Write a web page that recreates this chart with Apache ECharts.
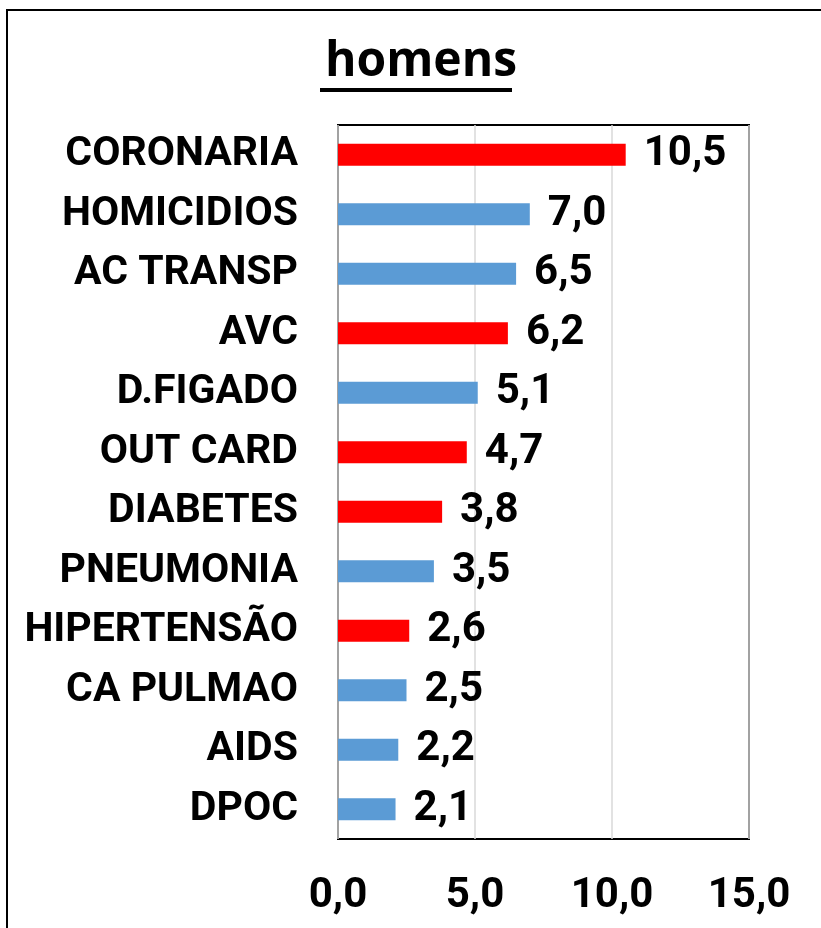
<!DOCTYPE html>
<html><head><meta charset="utf-8">
<script src="https://cdn.jsdelivr.net/npm/echarts@6/dist/echarts.min.js"></script>
<style>html,body{margin:0;padding:0;background:#fff}#c{width:821px;height:928px}</style>
</head><body><div id="c"></div>
<script>
const categories = ["CORONARIA","HOMICIDIOS","AC TRANSP","AVC","D.FIGADO","OUT CARD","DIABETES","PNEUMONIA","HIPERTENSÃO","CA PULMAO","AIDS","DPOC"];
const values = [10.5,7.0,6.5,6.2,5.1,4.7,3.8,3.5,2.6,2.5,2.2,2.1];
const barColors = ["#FF0000","#5B9BD5","#5B9BD5","#FF0000","#5B9BD5","#FF0000","#FF0000","#5B9BD5","#FF0000","#5B9BD5","#5B9BD5","#5B9BD5"];
const tickValues = [0,5,10,15];
const titleText = "homens";

const fmt = v => v.toFixed(1).replace('.', ',');
const chart = echarts.init(document.getElementById('c'), null, {renderer:'canvas'});
const font = 'Roboto, "Noto Sans", sans-serif';
chart.setOption({
  animation:false,
  backgroundColor:'#fff',
  title:{text:titleText,left:416,textAlign:'center',top:33,
    textStyle:{fontFamily:'"Open Sans", sans-serif',fontSize:48,fontWeight:'bold',color:'#000'}},
  graphic:[
    {type:'rect',shape:{x:7,y:10,width:900,height:1000},style:{fill:'none',stroke:'#000',lineWidth:2},silent:true},
    {type:'line',shape:{x1:320,y1:90,x2:512,y2:90},style:{stroke:'#000',lineWidth:4},silent:true}
  ],
  grid:{left:338,right:72,top:125,bottom:89,show:true,borderColor:'#000',borderWidth:2,backgroundColor:'transparent'},
  xAxis:{type:'value',min:0,max:15,interval:5,
    axisLine:{show:false},axisTick:{show:false},
    splitLine:{show:true,lineStyle:{color:'#d9d9d9',width:1.5}},
    axisLabel:{formatter:v=>fmt(v),margin:36,fontFamily:font,fontWeight:'bold',fontSize:42,color:'#000'}},
  yAxis:{type:'category',data:categories,inverse:true,
    axisLine:{show:false},axisTick:{show:false},
    axisLabel:{margin:40,fontFamily:font,fontWeight:'bold',fontSize:41,color:'#000'}},
  series:[{type:'bar',data:values.map((v,i)=>({value:v,itemStyle:{color:barColors[i]}})),
    barWidth:'37%',
    label:{show:true,position:'right',distance:18,formatter:p=>fmt(p.value),
      fontFamily:font,fontWeight:'bold',fontSize:42,color:'#000'}}]
});
</script></body></html>
